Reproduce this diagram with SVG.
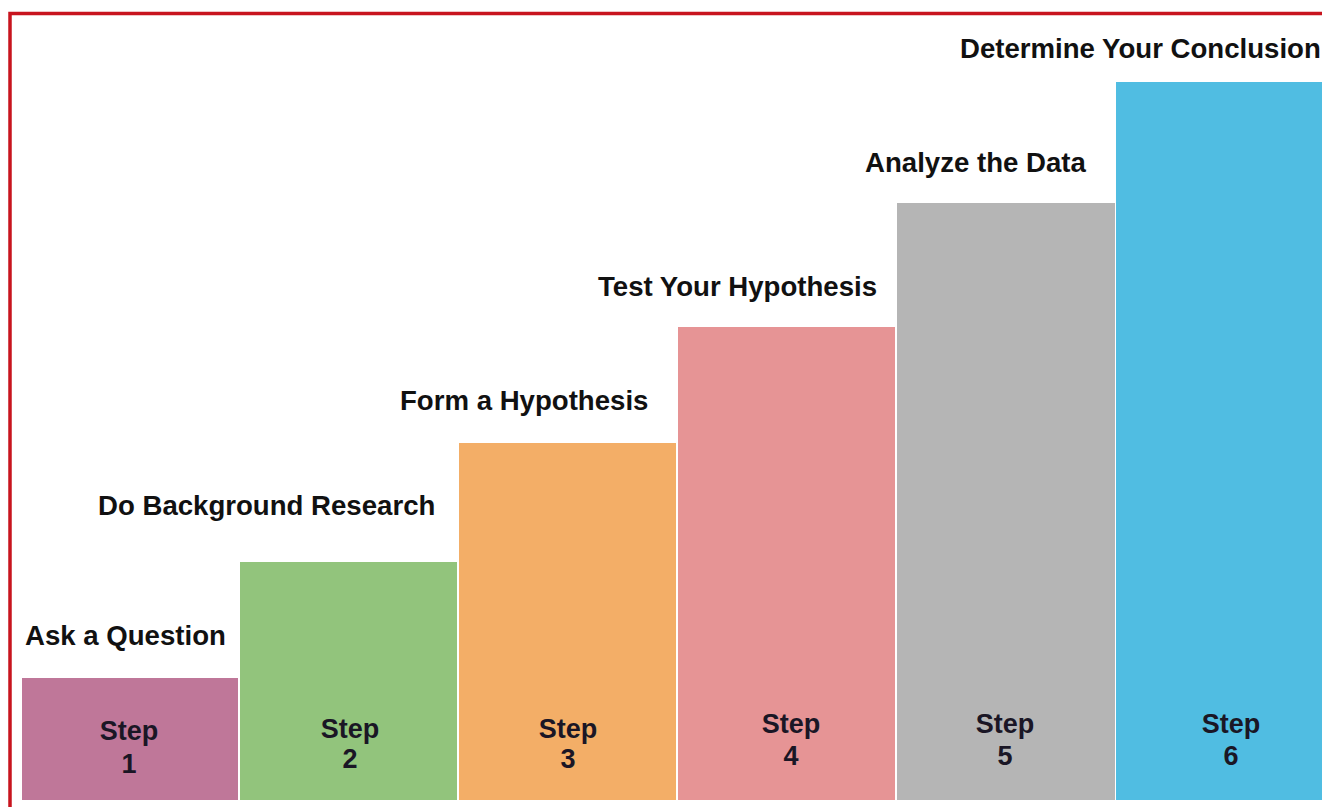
<svg xmlns="http://www.w3.org/2000/svg" width="1322" height="807" viewBox="0 0 1322 807">
<style>
.lbl{font-family:"Liberation Sans",Arial,sans-serif;font-weight:bold;font-size:27.6px;fill:#111}
.stp{font-family:"Liberation Sans",Arial,sans-serif;font-weight:bold;font-size:27px;fill:#1a1625;text-anchor:middle}
</style>
<rect x="0" y="0" width="1322" height="807" fill="#ffffff"/>
<rect x="10" y="13.5" width="1400" height="900" fill="none" stroke="#c8141e" stroke-width="3.5"/>
<g id="step1">
<rect x="22" y="678" width="216" height="122" fill="#bf7799"/>
<text class="lbl" x="25" y="645">Ask a Question</text>
<text class="stp" x="129" y="740">Step</text>
<text class="stp" x="129" y="773">1</text>
</g>
<g id="step2">
<rect x="240" y="562" width="217" height="238" fill="#92c47c"/>
<text class="lbl" x="98" y="515">Do Background Research</text>
<text class="stp" x="350" y="738">Step</text>
<text class="stp" x="350" y="768">2</text>
</g>
<g id="step3">
<rect x="459" y="443" width="217" height="357" fill="#f3ae67"/>
<text class="lbl" x="400" y="410">Form a Hypothesis</text>
<text class="stp" x="568" y="738">Step</text>
<text class="stp" x="568" y="768">3</text>
</g>
<g id="step4">
<rect x="678" y="327" width="217" height="473" fill="#e69495"/>
<text class="lbl" x="598" y="296">Test Your Hypothesis</text>
<text class="stp" x="791" y="733">Step</text>
<text class="stp" x="791" y="765">4</text>
</g>
<g id="step5">
<rect x="897" y="203" width="218" height="597" fill="#b5b5b5"/>
<text class="lbl" x="865" y="172">Analyze the Data</text>
<text class="stp" x="1005" y="733">Step</text>
<text class="stp" x="1005" y="765">5</text>
</g>
<g id="step6">
<rect x="1116" y="82" width="220" height="718" fill="#50bde2"/>
<text class="lbl" x="960" y="58">Determine Your Conclusion</text>
<text class="stp" x="1231" y="733">Step</text>
<text class="stp" x="1231" y="765">6</text>
</g>
<g id="connectors"/>
</svg>
